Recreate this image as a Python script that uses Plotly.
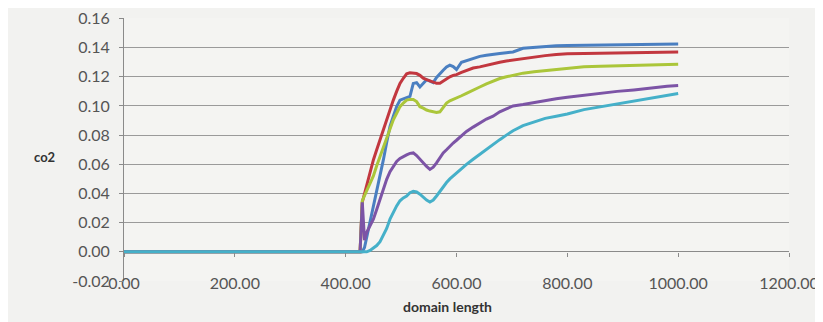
import plotly.graph_objects as go

# ---- data ----
x_vals = [0, 100, 200, 300, 400, 426, 430, 434, 438, 444, 450, 456, 462, 468, 474, 480, 486, 492,
          498, 504, 510, 516, 522, 528, 534, 540, 546, 552, 558, 564, 570, 576, 582, 588, 594,
          600, 609, 618, 630, 642, 654, 666, 678, 690, 702, 720, 740, 760, 780, 800, 830, 860,
          890, 920, 950, 980, 1000]

blue = [0, 0, 0, 0, 0, 0, 0, 0.003, 0.010, 0.022, 0.031, 0.0406, 0.052, 0.063, 0.075, 0.086, 0.093, 0.0995,
        0.104, 0.105, 0.1055, 0.1065, 0.1154, 0.116, 0.113, 0.1155, 0.118, 0.117, 0.116, 0.1195, 0.1222, 0.1245, 0.1267, 0.128, 0.127,
        0.125, 0.130, 0.131, 0.1325, 0.134, 0.1347, 0.1355, 0.136, 0.1365, 0.137, 0.1395, 0.1402, 0.1408, 0.1412, 0.1415, 0.1417, 0.1419,
        0.142, 0.1421, 0.1422, 0.1424, 0.1425]

red = [0, 0, 0, 0, 0, 0, 0.034, 0.040, 0.045, 0.054, 0.063, 0.070, 0.077, 0.083, 0.090, 0.097, 0.104, 0.110,
       0.1155, 0.119, 0.122, 0.1227, 0.1225, 0.1222, 0.121, 0.119, 0.118, 0.117, 0.1165, 0.1155, 0.1155, 0.117, 0.119, 0.120, 0.121,
       0.1215, 0.123, 0.1245, 0.126, 0.1268, 0.128, 0.129, 0.130, 0.1308, 0.1315, 0.1325, 0.1335, 0.1345, 0.1352, 0.1358, 0.136, 0.1362,
       0.1365, 0.1365, 0.1367, 0.1368, 0.137]

green = [0, 0, 0, 0, 0, 0, 0.035, 0.039, 0.042, 0.047, 0.052, 0.059, 0.0655, 0.072, 0.079, 0.085, 0.0905, 0.095,
         0.0995, 0.102, 0.104, 0.1045, 0.1045, 0.103, 0.0995, 0.0985, 0.0972, 0.0965, 0.096, 0.0955, 0.096, 0.099, 0.102, 0.1035, 0.1045,
         0.105, 0.107, 0.1086, 0.111, 0.113, 0.1152, 0.117, 0.1188, 0.120, 0.121, 0.1225, 0.1235, 0.1243, 0.125, 0.126, 0.1268, 0.1272,
         0.1276, 0.128, 0.1283, 0.1285, 0.1286]

purple = [0, 0, 0, 0, 0, 0, 0.034, 0.008, 0.0134, 0.018, 0.0224, 0.029, 0.036, 0.043, 0.0497, 0.055, 0.0587, 0.062,
          0.064, 0.0655, 0.0665, 0.0675, 0.0678, 0.066, 0.0633, 0.061, 0.0585, 0.0565, 0.058, 0.061, 0.0645, 0.0678, 0.070, 0.0725, 0.0746,
          0.0765, 0.0795, 0.0825, 0.0855, 0.0885, 0.091, 0.093, 0.096, 0.098, 0.100, 0.101, 0.1025, 0.104, 0.105, 0.106, 0.1075, 0.1088,
          0.110, 0.111, 0.1125, 0.1135, 0.114]

cyan = [0, 0, 0, 0, 0, 0, 0, 0, 0, 0.001, 0.0025, 0.0043, 0.007, 0.011, 0.016, 0.0224, 0.027, 0.0315,
        0.035, 0.037, 0.0383, 0.0405, 0.0415, 0.041, 0.0395, 0.0372, 0.0355, 0.0342, 0.0355, 0.0383, 0.0415, 0.045, 0.0475, 0.050, 0.052,
        0.0545, 0.057, 0.060, 0.0635, 0.067, 0.0705, 0.0735, 0.0769, 0.080, 0.083, 0.0865, 0.0888, 0.0915, 0.093, 0.0945, 0.0975, 0.0995,
        0.1015, 0.1035, 0.105, 0.107, 0.1086]

series = [("Series1", blue, "#4a7fc1"), ("Series2", red, "#c2373f"), ("Series3", green, "#abc63a"),
          ("Series4", purple, "#7c54a6"), ("Series5", cyan, "#45b0c9")]

x_ticks = [0, 200, 400, 600, 800, 1000, 1200]
x_ticktext = ["0.00", "200.00", "400.00", "600.00", "800.00", "1000.00", "1200.00"]
y_ticks = [-0.02, 0.0, 0.02, 0.04, 0.06, 0.08, 0.10, 0.12, 0.14, 0.16]
y_ticktext = ["-0.02", "0.00", "0.02", "0.04", "0.06", "0.08", "0.10", "0.12", "0.14", "0.16"]

x_title = "domain length"
y_title = "co2"

# ---- figure ----
fig = go.Figure()
for name, vals, col in series:
    fig.add_trace(go.Scatter(x=x_vals, y=vals, mode="lines", name=name,
                             line=dict(color=col, width=3)))

font_family = "Lato, 'Liberation Sans', sans-serif"
tick_font = dict(family=font_family, size=16, color="#555555")

fig.update_layout(
    width=823, height=322,
    margin=dict(l=116, r=42, t=10, b=49),
    paper_bgcolor="#f2f2f0",
    plot_bgcolor="#f4f4f2",
    showlegend=False,
    xaxis=dict(
        range=[0, 1200], tickvals=x_ticks, ticktext=x_ticktext,
        showgrid=False, zeroline=False, showline=False, automargin=False,
        anchor="free", position=0.02 / 0.1803,
        ticks="outside", ticklen=4, tickcolor="#8a8a8a", tickwidth=1,
        ticklabelstandoff=13,
        tickfont=tick_font,
    ),
    yaxis=dict(
        range=[-0.02, 0.1603], tickvals=y_ticks, ticktext=y_ticktext,
        showgrid=True, gridcolor="#9a9a9a", gridwidth=1, automargin=False,
        zeroline=True, zerolinecolor="#8a8a8a", zerolinewidth=1,
        showline=True, linecolor="#8a8a8a", linewidth=1,
        ticks="outside", ticklen=4, tickcolor="#8a8a8a",
        ticklabelstandoff=6,
        tickfont=tick_font,
    ),
    annotations=[
        dict(text=f"<b>{x_title}</b>", xref="paper", yref="paper", x=0.486, y=-0.097,
             xanchor="center", yanchor="middle", showarrow=False,
             font=dict(family=font_family, size=14, color="#333333")),
        dict(text=f"<b>{y_title}</b>", xref="paper", yref="paper", x=-0.119, y=0.471,
             xanchor="center", yanchor="middle", showarrow=False,
             font=dict(family=font_family, size=13, color="#333333")),
    ],
)

fig.write_html("out.html")
